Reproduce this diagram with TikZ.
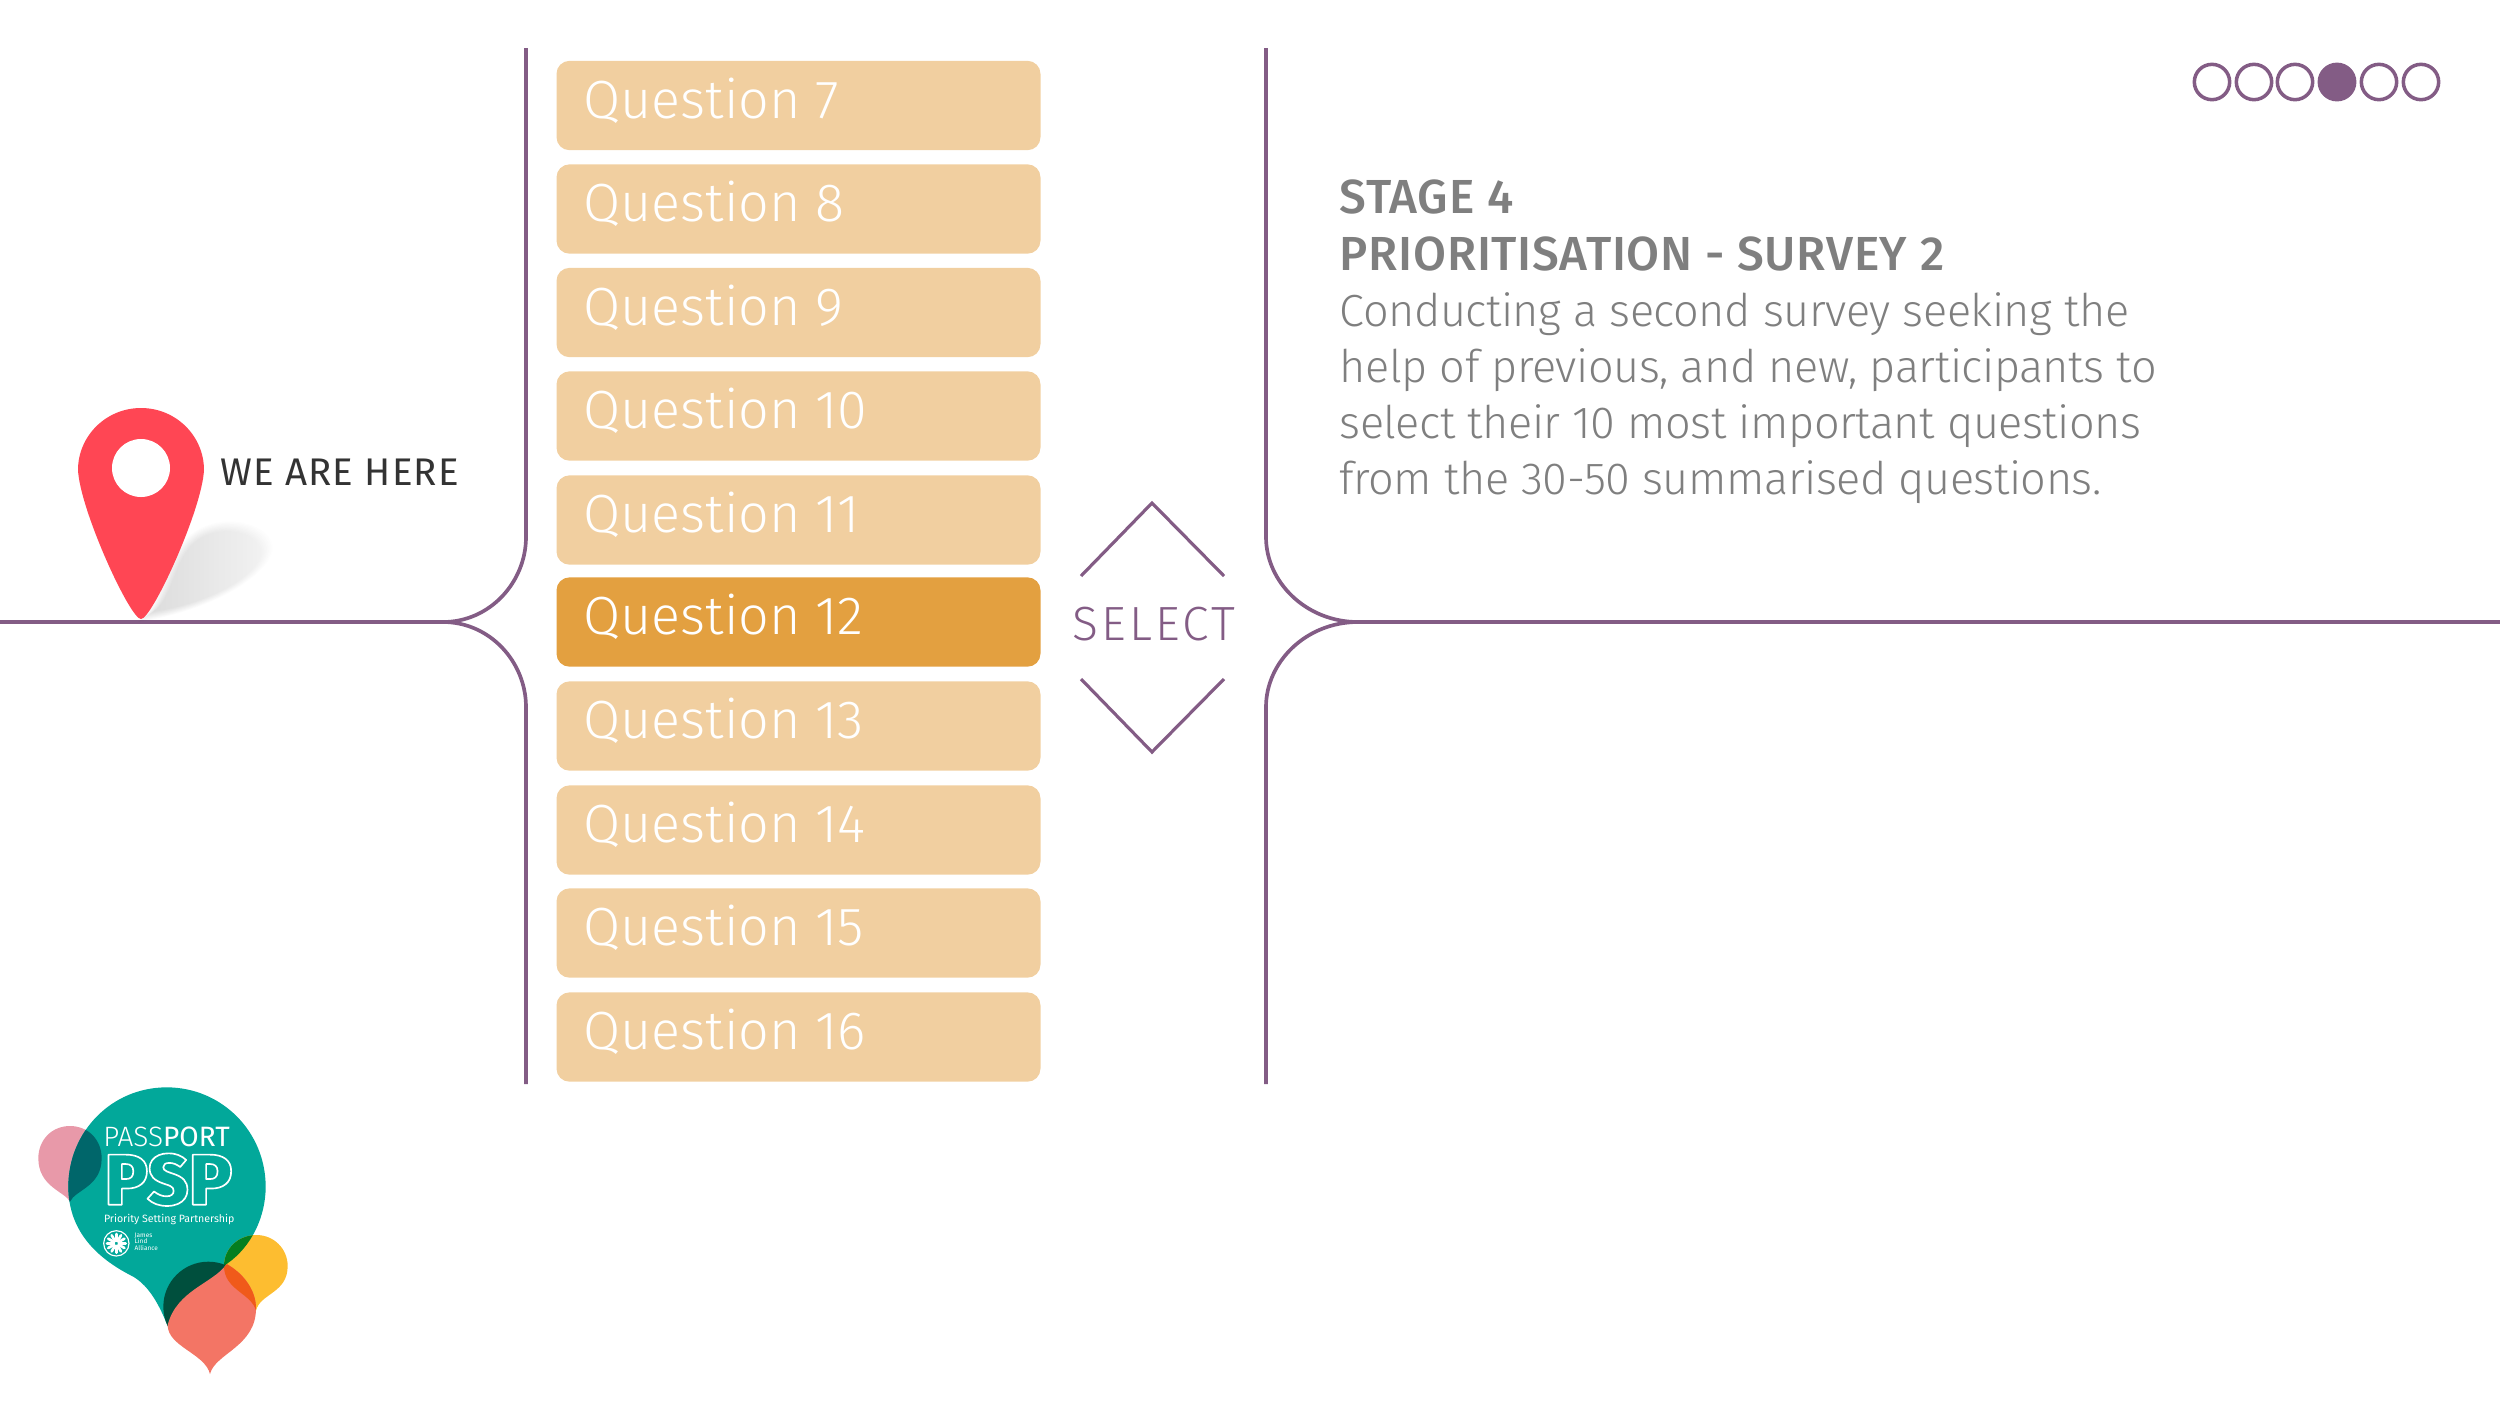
\documentclass[tikz,border=0pt]{standalone}
\usepackage{fontspec}
\setmainfont{Fira Sans Light}
\newfontfamily\regf{Fira Sans}
\newfontfamily\regwidef{Fira Sans}[LetterSpace=2.8]
\newfontfamily\medf{Fira Sans Medium}[LetterSpace=1.5]
\newfontfamily\bodyf{Fira Sans Light}[LetterSpace=-1.0]
\newfontfamily\selectf{Fira Sans Light}[LetterSpace=6.6]
\newfontfamily\heavyf{Fira Sans ExtraBold}
\definecolor{plum}{HTML}{835C85}
\definecolor{qbox}{HTML}{F1CFA0}
\definecolor{qhi}{HTML}{E3A040}
\definecolor{pinred}{HTML}{FF4654}
\definecolor{bodygray}{HTML}{7F7F7F}
\definecolor{logoteal}{HTML}{02A89A}
\definecolor{logopink}{RGB}{232,153,169}
\definecolor{logopinkdk}{RGB}{0,102,106}
\definecolor{logoyel}{RGB}{253,189,48}
\definecolor{logogreen}{RGB}{4,126,32}
\definecolor{logodark}{RGB}{0,79,61}
\definecolor{logosal}{RGB}{243,117,101}
\definecolor{logoorange}{RGB}{240,90,26}
\newcommand{\fs}[1]{\fontsize{\dimexpr#1pt*3/10\relax}{\dimexpr#1pt*36/100\relax}\selectfont}
\tikzset{
  x=0.3pt,y=-0.3pt,
  rail/.style={draw=plum,line width=1.1pt,line cap=butt},
  chev/.style={draw=plum,line width=0.95pt},
  dot/.style={circle,draw=plum,line width=1.05pt,minimum size=10.6pt,inner sep=0pt,fill=white},
  qbase/.style={rounded corners=3.9pt,minimum width=145.2pt,minimum height=26.8pt,inner sep=0pt},
  qlab/.style={anchor=base west,inner sep=0pt,text=white,font=\fs{53.8}},
  body/.style={anchor=base west,inner sep=0pt,text=bodygray,font=\bodyf\fs{45}},
  bodyb/.style={anchor=base west,inner sep=0pt,text=bodygray,font=\medf\fs{47.8}},
  logotxt/.style={anchor=base west,inner sep=0pt,text=white},
}
\begin{document}
\begin{tikzpicture}
\useasboundingbox (0,0) rectangle (2500,1407);
% rails
\draw[rail] (0,622) -- (443,622) .. controls (490,622) and (526,582) .. (526,537) -- (526,48);
\draw[rail] (430,622) -- (443,622) .. controls (490,622) and (526,662) .. (526,707) -- (526,1084);
\draw[rail] (2500,622) -- (1358,622) .. controls (1306,622) and (1266,582) .. (1266,537) -- (1266,48);
\draw[rail] (1358,622) .. controls (1306,622) and (1266,662) .. (1266,707) -- (1266,1084);
% question boxes
\foreach \n/\yy in {7/105.5,8/209,9/312.5,10/416,11/520,13/726,14/830,15/933,16/1037}{
  \node[qbase,fill=qbox] (q\n) at (798.5,\yy) {};
  \node[qlab] (t\n) at (583,\yy+12.5) {Question \n};
}
\node[qbase,fill=qhi] (q12) at (798.5,622) {};
\node[qlab] (t12) at (583,634.5) {Question 12};
% select
\coordinate (cta) at (1081,576); \coordinate (ctb) at (1152,503); \coordinate (ctc) at (1224,576);
\coordinate (cba) at (1081,679); \coordinate (cbb) at (1152,752); \coordinate (cbc) at (1224,679);
\draw[chev] (cta) -- (ctb) -- (ctc);
\draw[chev] (cba) -- (cbb) -- (cbc);
\node[anchor=base,inner sep=0pt,text=plum,font=\selectf\fs{48}] (sel) at (1154,640) {SELECT};
% progress dots
\foreach \i/\xx in {1/2212,2/2254,3/2295,5/2379,6/2421}{\node[dot] (d\i) at (\xx,82) {};}
\node[dot,fill=plum] (d4) at (2337,82) {};
% stage text
\node[bodyb] (h1) at (1339,213.5) {STAGE 4};
\node[bodyb] (h2) at (1339,270.5) {PRIORITISATION - SURVEY 2};
\node[body] (b1) at (1339,326) {Conducting a second survey seeking the};
\node[body] (b2) at (1339,382) {help of previous, and new, participants to};
\node[body] (b3) at (1339,438.5) {select their 10 most important questions};
\node[body] (b4) at (1339,494.5) {from the 30-50 summarised questions.};
% pin shadow, soft-edged by nested layers
\foreach \s in {1.0,0.975,0.95,0.925,0.9,0.875,0.85,0.825,0.8}{
  \shade[left color=black,right color=black!35,opacity=0.016,
     shift={(215,570)},scale=\s,shift={(-215,-570)}]
   (138,622) .. controls (170,600) and (160,530) .. (222,522)
   .. controls (255,519) and (274,535) .. (273,550)
   .. controls (268,575) and (215,610) .. (138,622) -- cycle;
}
% pin
\fill[pinred] (141,408) .. controls (176,408) and (204,436) .. (204,470)
  .. controls (202,510) and (152,619) .. (141,619)
  .. controls (130,619) and (80,510) .. (78,470)
  .. controls (78,436) and (106,408) .. (141,408) -- cycle;
\fill[white] (141,468) circle[radius=29];
\node[anchor=base west,inner sep=0pt,text=black!80,font=\regwidef\fs{38.5}] (here) at (220,485) {WE ARE HERE};
% logo, in 3x crop coordinates
\begin{scope}[shift={(0,1060)},x=0.1pt,y=-0.1pt]
\def\pinkP{(210,425) .. controls (195,395) and (115,380) .. (115,295) .. controls (115,240) and (155,198) .. (210,198) .. controls (265,198) and (305,240) .. (305,295) .. controls (305,380) and (225,390) .. (210,425) -- cycle}
\def\tealP{(205,380) .. controls (205,215) and (335,82) .. (500,82) .. controls (665,82) and (797,215) .. (797,380) .. controls (797,470) and (755,560) .. (680,612) -- (620,700) -- (503,798) .. controls (480,740) and (450,680) .. (400,650) .. controls (300,600) and (205,520) .. (205,380) -- cycle}
\def\yelP{(768,752) .. controls (755,700) and (672,690) .. (672,618) .. controls (672,565) and (715,525) .. (770,525) .. controls (820,525) and (863,565) .. (863,618) .. controls (863,700) and (780,700) .. (768,752) -- cycle}
\def\salP{(630,942) .. controls (615,880) and (503,860) .. (503,795) .. controls (530,690) and (640,670) .. (680,612) .. controls (730,640) and (768,690) .. (768,745) .. controls (768,860) and (645,880) .. (630,942) -- cycle}
\fill[logopink] \pinkP;
\fill[logoteal] \tealP;
\begin{scope}\clip \tealP; \fill[logopinkdk] \pinkP; \end{scope}
\fill[logoyel] \yelP;
\begin{scope}\clip \tealP; \fill[logogreen] \yelP; \end{scope}
\fill[logodark] (625,740) circle[radius=135];
\fill[logosal] \salP;
\begin{scope}\clip \salP; \fill[logoorange] \yelP; \end{scope}
% texts
\node[logotxt,font=\fs{28}] (lp) at (308,260) {PASS\regf PORT};
\node[logotxt,font=\regf\fs{10.6}] (lq) at (310,488) {Priority Setting Partnership};
% PSP outlined text
\node[logotxt,font=\heavyf\fs{72}] (lpsp) at (312,434) {\special{pdf:code q 1 Tr 0.5 w 1 j 1 J 1 1 1 RG}PSP\special{pdf:code Q}};
% JLA
\draw[white,line width=0.35pt] (349,550) circle[radius=38];
\foreach \a in {0,30,...,330}{\draw[white,line width=0.8pt,line cap=round] (349,550) ++(\a:8) -- ++(\a:20);}
\node[logotxt,anchor=north west,align=left,font=\regf\fontsize{1.95pt}{2pt}\selectfont] (jla) at (402,516) {James\\Lind\\Alliance};
\end{scope}
\end{tikzpicture}
\end{document}
